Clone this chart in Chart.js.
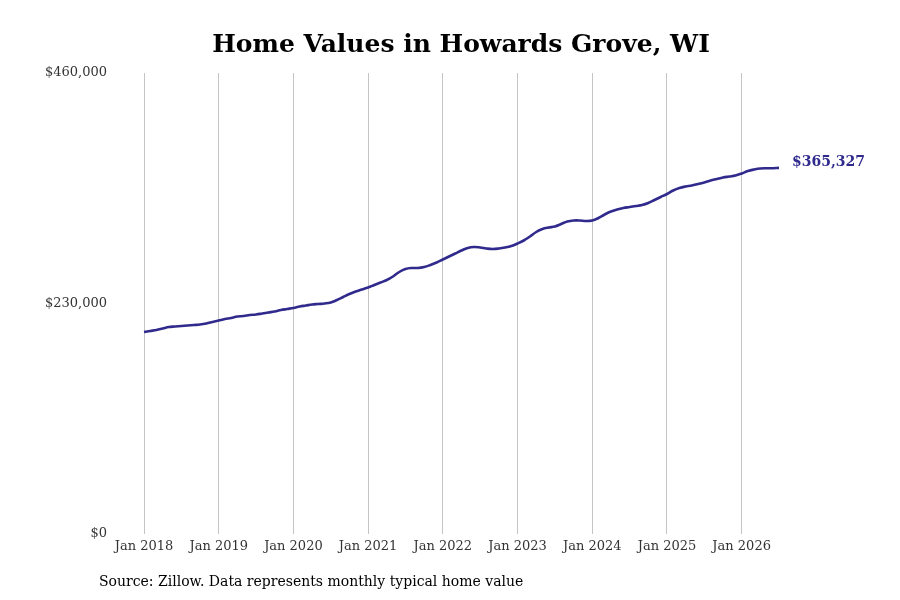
<!DOCTYPE html>
<html>
<head>
<meta charset="utf-8">
<script src="https://cdn.jsdelivr.net/npm/chart.js@4.4.0/dist/chart.umd.min.js"></script>
<style>
  html, body { margin: 0; padding: 0; background: #fff; }
  #wrap { width: 900px; height: 600px; }
</style>
</head>
<body>
<div id="wrap"><canvas id="chart"></canvas></div>
<script>
// monthly typical home value, Jan 2018 - Jul 2026
const startYear = 2018;
const homeValues = [
  201560, 202560, 203560, 205050, 206550, 207050, 207550, 208050, 208550, 209050, 210050, 211540,
  213040, 214530, 215530, 217030, 217520, 218520, 219020, 220020, 221020, 222020, 223510, 224510,
  225510, 227010, 228000, 229000, 229500, 230000, 231000, 233490, 236490, 239480, 241970, 243970,
  245970, 248460, 250960, 253450, 256950, 261430, 264430, 265420, 265420, 266420, 268420, 270910,
  273910, 276900, 279890, 282890, 285380, 286380, 285880, 284880, 284380, 284880, 285880, 287370,
  289870, 292860, 296860, 301340, 304340, 305840, 306830, 309320, 311820, 312820, 312820, 312320,
  312820, 315310, 318810, 321800, 323800, 325290, 326290, 327290, 328290, 330280, 333280, 336270,
  339270, 342760, 345250, 346750, 347740, 349240, 350740, 352730, 354230, 355730, 356730, 357730,
  359720, 362210, 363720, 364710, 364910, 365010, 365327
];
const monthNames = ['Jan','Feb','Mar','Apr','May','Jun','Jul','Aug','Sep','Oct','Nov','Dec'];
const months = homeValues.map((v, i) => monthNames[i % 12] + ' ' + (startYear + Math.floor(i / 12)));
const yTicks = [0, 230000, 460000];

const titleText = 'Home Values in Howards Grove, WI';
const sourceText = 'Source: Zillow. Data represents monthly typical home value';
const lineColor = '#2f2a8c';

function money(v) { return '$' + Math.round(v).toLocaleString('en-US'); }

const decorations = {
  id: 'decorations',
  afterDraw(chart) {
    const ctx = chart.ctx;
    ctx.save();
    ctx.fillStyle = '#000';
    ctx.textAlign = 'center';
    ctx.textBaseline = 'middle';
    ctx.font = 'bold 25px "DejaVu Serif"';
    ctx.fillText(titleText, 461, 45);
    ctx.textAlign = 'left';
    ctx.font = '14px "DejaVu Serif"';
    ctx.fillText(sourceText, 99, 582);
    // end label
    const meta = chart.getDatasetMeta(0);
    const last = meta.data[meta.data.length - 1];
    ctx.fillStyle = lineColor;
    ctx.font = 'bold 14px "DejaVu Serif"';
    ctx.fillText(money(homeValues[homeValues.length - 1]), last.x + 13, last.y - 6);
    ctx.restore();
  }
};

new Chart(document.getElementById('chart'), {
  type: 'line',
  data: {
    labels: months,
    datasets: [{
      data: homeValues,
      borderColor: lineColor,
      borderWidth: 2.6,
      pointRadius: 0,
      tension: 0.4,
      fill: false
    }]
  },
  options: {
    responsive: true,
    maintainAspectRatio: false,
    animation: false,
    layout: { padding: { top: 73, right: 121, bottom: 36, left: 0 } },
    plugins: { legend: { display: false }, tooltip: { enabled: false } },
    scales: {
      x: {
        type: 'category',
        offset: false,
        border: { display: false },
        grid: {
          drawTicks: false,
          color: c => (c.index % 12 === 0 ? '#c4c4c4' : 'rgba(0,0,0,0)'),
          lineWidth: 1
        },
        ticks: {
          autoSkip: false,
          maxRotation: 0,
          padding: 5,
          color: '#333',
          font: { family: 'DejaVu Serif', size: 13 },
          callback: function (val, i) { return i % 12 === 0 ? months[i] : ''; }
        },
        afterFit: s => { s.height = 30; }
      },
      y: {
        min: 0,
        max: 460000,
        border: { display: false },
        grid: { display: false, drawTicks: false },
        afterBuildTicks: s => { s.ticks = yTicks.map(v => ({ value: v })); },
        ticks: {
          padding: 37,
          color: '#333',
          font: { family: 'DejaVu Serif', size: 13 },
          callback: v => money(v)
        },
        afterFit: s => { s.width = 144; }
      }
    }
  },
  plugins: [decorations]
});
</script>
</body>
</html>
